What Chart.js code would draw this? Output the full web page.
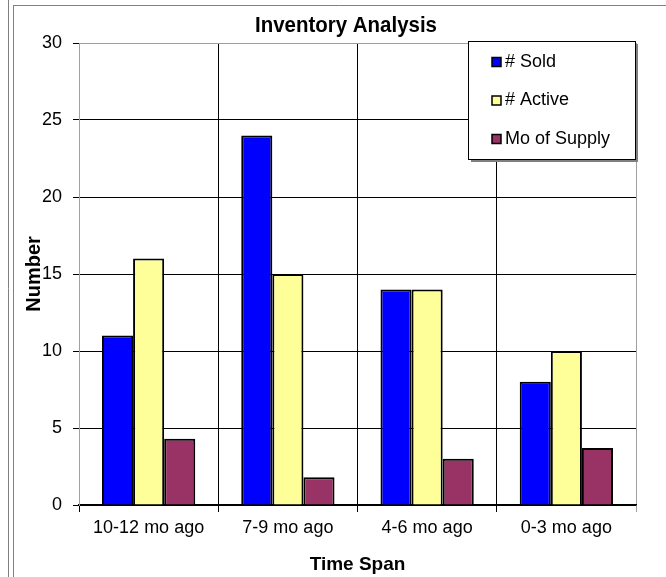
<!DOCTYPE html>
<html>
<head>
<meta charset="utf-8">
<script src="https://cdn.jsdelivr.net/npm/chart.js@4"></script>
<style>
  html, body { margin: 0; padding: 0; background: #fff; }
  #wrap { width: 666px; height: 577px; }
</style>
</head>
<body>
<div id="wrap"><canvas id="myChart" width="666" height="577"></canvas></div>
<script>
// data
var categories = ['10-12 mo ago', '7-9 mo ago', '4-6 mo ago', '0-3 mo ago'];
var sold = [11, 24, 14, 8];
var active = [16, 15, 14, 10];
var supply = [4.3, 1.8, 3.0, 3.7];
var yTicks = [0, 5, 10, 15, 20, 25, 30];
var chartTitle = 'Inventory Analysis';

var GRAY = '#a0a0a0';
var FONT = "'Liberation Sans', Arial, sans-serif";

// frame lines, title (a bit narrow like the original) and legend box
const decor = {
    id: 'decor',
    beforeDraw(chart) {
        const c = chart.ctx;
        c.save();
        c.strokeStyle = '#808080';
        c.lineWidth = 1;
        c.beginPath();
        c.moveTo(8.5, 0); c.lineTo(8.5, 577);
        c.moveTo(13.5, 5); c.lineTo(13.5, 577);
        c.moveTo(13.5, 5.5); c.lineTo(666, 5.5);
        c.stroke();
        c.restore();

        c.save();
        c.translate(346, 32);
        c.scale(0.93, 1);
        c.font = 'bold 22px ' + FONT;
        c.fillStyle = '#000';
        c.textAlign = 'center';
        c.textBaseline = 'alphabetic';
        c.fillText(chartTitle, 0, 0);
        c.restore();
    },
    afterDraw(chart) {
        const c = chart.ctx;
        const x = 468, y = 41, w = 167, h = 118;
        c.save();
        // shadow
        c.fillStyle = '#808080';
        c.fillRect(x + w, y + 3, 3, h);
        c.fillRect(x + 3, y + h, w, 3);
        c.fillStyle = '#fff';
        c.fillRect(x, y, w, h);
        c.strokeStyle = '#000';
        c.lineWidth = 1;
        c.strokeRect(x + 0.5, y + 0.5, w, h);
        c.font = '18px ' + FONT;
        c.textBaseline = 'middle';
        chart.data.datasets.forEach(function (ds, i) {
            const cy = 62 + i * 38.5;
            c.fillStyle = ds.backgroundColor;
            c.fillRect(492, cy - 4.5, 9, 9);
            c.strokeStyle = '#000';
            c.lineWidth = 1.5;
            c.strokeRect(492, cy - 4.5, 9, 9);
            c.fillStyle = '#000';
            c.fillText(ds.label, 505, cy);
        });
        c.restore();
    }
};

const ctx = document.getElementById('myChart').getContext('2d');

const myChart = new Chart(ctx, {
    type: 'bar',
    data: {
        labels: categories,
        datasets: [
            { label: '# Sold', data: sold, backgroundColor: '#0000ff', borderColor: '#000', borderWidth: 2 },
            { label: '# Active', data: active, backgroundColor: '#ffff99', borderColor: '#000', borderWidth: 2 },
            { label: 'Mo of Supply', data: supply, backgroundColor: '#993366', borderColor: '#000', borderWidth: 2 }
        ]
    },
    options: {
        responsive: false,
        animation: false,
        categoryPercentage: 0.67,
        barPercentage: 1.0,
        layout: { padding: { left: 14, right: 30, top: 43, bottom: 0 } },
        plugins: {
            legend: { display: false },
            tooltip: { enabled: false },
            title: { display: false }
        },
        scales: {
            x: {
                grid: {
                    offset: true,
                    color: function (c) { return (c.type !== 'tick' || c.index === 0) ? GRAY : '#000'; },
                    tickColor: function (c) { return c.type !== 'tick' ? GRAY : '#000'; },
                    tickLength: 7
                },
                border: { color: '#000', width: 1.5 },
                ticks: { color: '#000', font: { family: FONT, size: 18 }, padding: 5 },
                title: {
                    display: true, text: 'Time Span', color: '#000',
                    font: { family: FONT, size: 19, weight: 'bold' },
                    padding: { top: 0, bottom: 1 }
                },
                afterFit: function (s) { s.height = 72; }
            },
            y: {
                min: 0, max: 30,
                afterBuildTicks: function (s) { s.ticks = yTicks.map(function (v) { return { value: v }; }); },
                grid: {
                    color: function (c) { return (c.tick && c.tick.value === 30) ? GRAY : '#000'; },
                    tickColor: '#000',
                    tickLength: 6
                },
                border: { color: GRAY },
                ticks: { color: '#000', font: { family: FONT, size: 18 }, padding: 11 },
                title: {
                    display: true, text: 'Number', color: '#000',
                    font: { family: FONT, size: 20, weight: 'bold' },
                    padding: { top: 8, bottom: 0 }
                },
                afterFit: function (s) { s.width = 65; }
            }
        }
    },
    plugins: [decor]
});
</script>
</body>
</html>
